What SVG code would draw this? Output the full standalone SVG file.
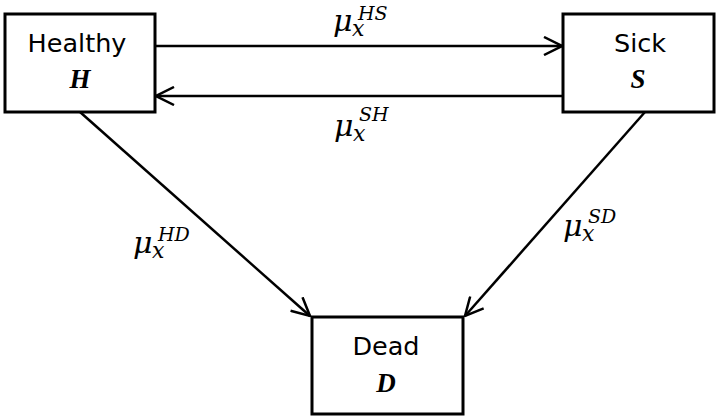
<svg xmlns="http://www.w3.org/2000/svg" width="716" height="416" viewBox="0 0 716 416">
<style>
.box{fill:#fff;stroke:#000;stroke-width:3}
.lbl{font-family:"DejaVu Sans",sans-serif;font-size:25.5px;text-anchor:middle}
.sym{font-family:"Liberation Serif",serif;font-style:italic;font-weight:bold;font-size:27px;text-anchor:middle}
.mu{font-family:"DejaVu Serif",serif;font-style:italic;font-size:30px}
.sub{font-size:22px}
.sup{font-size:19px}
.edge{stroke:#000;stroke-width:2.5;fill:none}
</style>
<defs>
<marker id="arr" viewBox="0 0 20 20" refX="19" refY="10" markerWidth="20" markerHeight="20" markerUnits="userSpaceOnUse" orient="auto">
<path d="M1,1 L19,10 L1,19" fill="none" stroke="#000" stroke-width="2.5"/>
</marker>
</defs>
<g id="connectors">
<line class="edge" x1="155" y1="46" x2="562" y2="46" marker-end="url(#arr)"/>
<line class="edge" x1="563" y1="96" x2="156" y2="96" marker-end="url(#arr)"/>
<line class="edge" x1="80" y1="112" x2="310" y2="316" marker-end="url(#arr)"/>
<line class="edge" x1="645" y1="112" x2="465" y2="316" marker-end="url(#arr)"/>
<text class="mu" x="333" y="31">μ<tspan class="sub" x="352" y="36">x</tspan><tspan class="sup" x="358" y="20">HS</tspan></text>
<text class="mu" x="334" y="136">μ<tspan class="sub" x="353" y="141">x</tspan><tspan class="sup" x="359" y="121">SH</tspan></text>
<text class="mu" x="133" y="253">μ<tspan class="sub" x="152" y="258">x</tspan><tspan class="sup" x="158" y="241">HD</tspan></text>
<text class="mu" x="563" y="236">μ<tspan class="sub" x="582" y="241">x</tspan><tspan class="sup" x="588" y="223">SD</tspan></text>
</g>
<g id="node-healthy">
<rect class="box" x="5" y="14" width="150" height="98"/>
<text class="lbl" x="77" y="52">Healthy</text>
<text class="sym" x="80" y="88">H</text>
</g>
<g id="node-sick">
<rect class="box" x="563" y="14" width="151" height="98"/>
<text class="lbl" x="640" y="52">Sick</text>
<text class="sym" x="638" y="88">S</text>
</g>
<g id="node-dead">
<rect class="box" x="312" y="317" width="151" height="97"/>
<text class="lbl" x="386" y="355">Dead</text>
<text class="sym" x="386" y="392">D</text>
</g>
</svg>
